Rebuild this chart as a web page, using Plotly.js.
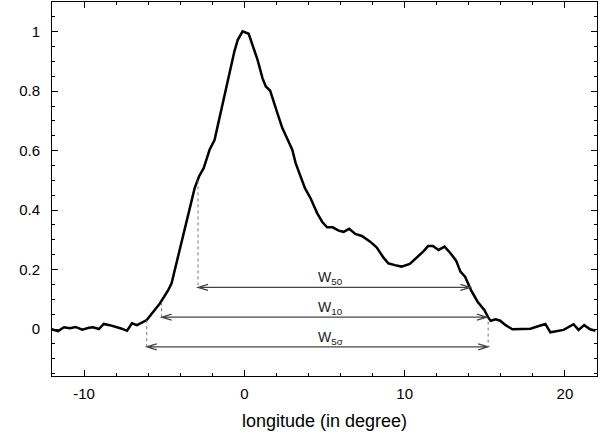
<!DOCTYPE html>
<html>
<head>
<meta charset="utf-8">
<script src="https://cdn.plot.ly/plotly-3.0.1.min.js"></script>
<style>html,body{margin:0;padding:0;background:#fff;}#chart{width:611px;height:439px;}</style>
</head>
<body>
<div id="chart"></div>
<script>
// Profile: longitude (degree) vs normalized intensity
var longitude = [-12.07,-11.62,-11.25,-10.88,-10.53,-10.11,-9.70,-9.43,-9.08,-8.77,-8.40,-8.05,-7.69,-7.32,-7.01,-6.70,-6.39,-6.09,
  -5.26,-4.75,-4.54,-4.23,-3.82,-3.41,-3.10,-2.83,-2.54,-2.37,-2.17,-1.86,-1.44,-1.13,-0.82,-0.62,-0.41,-0.11,0.27,0.51,0.82,1.13,1.34,1.61,1.75,
  2.06,2.37,2.68,2.99,3.20,3.78,4.13,4.54,4.85,5.16,5.51,5.88,6.19,6.54,6.92,7.33,7.85,8.25,8.67,8.98,9.39,9.80,10.32,10.73,11.15,11.46,11.76,
  12.12,12.49,12.86,13.21,13.48,13.77,14.14,14.55,14.97,15.21,15.37,15.68,15.96,16.30,16.72,17.23,17.85,18.37,18.78,19.09,19.50,19.92,20.54,
  20.85,21.20,21.57,21.90];
var intensity = [0.000,-0.007,0.006,0.003,0.007,-0.002,0.004,0.006,0.000,0.017,0.013,0.008,0.002,-0.006,0.019,0.013,0.021,0.030,
  0.087,0.131,0.154,0.221,0.311,0.401,0.474,0.513,0.541,0.569,0.603,0.636,0.737,0.816,0.895,0.934,0.973,1.001,0.993,0.956,0.906,0.844,0.816,0.802,0.777,
  0.726,0.676,0.642,0.603,0.558,0.474,0.440,0.390,0.361,0.342,0.342,0.331,0.327,0.337,0.320,0.313,0.294,0.275,0.241,0.221,0.215,0.210,0.219,0.238,0.260,0.279,0.279,
  0.266,0.277,0.255,0.230,0.193,0.176,0.131,0.092,0.064,0.039,0.028,0.033,0.028,0.013,-0.001,0.001,0.001,0.010,0.017,-0.011,-0.007,-0.003,0.016,
  -0.003,0.013,-0.001,-0.006];

// Width markers
var widthNames = ["W<sub>50</sub>", "W<sub>10</sub>", "W<sub>5σ</sub>"];
var widthLevel = [0.14, 0.04, -0.06];
var widthLeft = [-2.89, -5.16, -6.09];
var widthRight = [14.10, 15.13, 15.21];
var labelX = [5.4, 5.4, 5.4];
var labelLevel = [0.17, 0.07, -0.03];

// Dotted guides
var guideX = [-2.89, -5.16, -6.09, 15.21];
var guideTop = [0.50, 0.09, 0.03, 0.025];
var guideBottom = [0.14, 0.04, -0.06, -0.06];

var xTickVals = [-10, 0, 10, 20];
var xTickText = ["-10", "0", "10", "20"];
var yTickVals = [0, 0.2, 0.4, 0.6, 0.8, 1];
var yTickText = ["0", "0.2", "0.4", "0.6", "0.8", "1"];

var xRange = [-12, 22], yRange = [-0.158, 1.1];
var W = 611, H = 439, mL = 52, mR = 14, mT = 2, mB = 63;
var pxX = (xRange[1] - xRange[0]) / (W - mL - mR);
var pxY = (yRange[1] - yRange[0]) / (H - mT - mB);

var shapes = [];
for (var i = 0; i < widthLevel.length; i++) {
  var y = widthLevel[i], a = widthLeft[i], b = widthRight[i];
  var dx = 10 * pxX, dy = 3 * pxY;
  var path = "M " + a + "," + y + " L " + b + "," + y +
    " M " + (a + dx) + "," + (y + dy) + " L " + a + "," + y + " L " + (a + dx) + "," + (y - dy) +
    " M " + (b - dx) + "," + (y + dy) + " L " + b + "," + y + " L " + (b - dx) + "," + (y - dy);
  shapes.push({type: "path", xref: "x", yref: "y", path: path, line: {color: "#444", width: 1.2}});
}
for (var j = 0; j < guideX.length; j++) {
  shapes.push({type: "line", xref: "x", yref: "y", x0: guideX[j], x1: guideX[j], y0: guideTop[j], y1: guideBottom[j],
    line: {color: "#777", width: 1, dash: "dot"}});
}

var annotations = [];
for (var k = 0; k < widthNames.length; k++) {
  annotations.push({x: labelX[k], y: labelLevel[k], xref: "x", yref: "y", text: widthNames[k], showarrow: false,
    font: {family: "Liberation Sans, Arial, sans-serif", size: 14, color: "#222"}});
}

var trace = {x: longitude, y: intensity, type: "scatter", mode: "lines",
  line: {color: "#000", width: 2.5}, hoverinfo: "skip"};

var axisCommon = {showgrid: false, zeroline: false, showline: true, linecolor: "#000", linewidth: 1,
  mirror: "ticks", ticks: "inside", ticklen: 6, tickcolor: "#000", tickwidth: 1,
  tickfont: {family: "Liberation Sans, Arial, sans-serif", size: 15, color: "#000"}};

var layout = {
  width: W, height: H,
  margin: {l: mL, r: mR, t: mT, b: mB},
  paper_bgcolor: "#fff", plot_bgcolor: "#fff",
  showlegend: false,
  xaxis: Object.assign({}, axisCommon, {range: xRange, tickmode: "array", tickvals: xTickVals, ticktext: xTickText,
    minor: {dtick: 2, tick0: 0, ticks: "inside", ticklen: 3, tickcolor: "#000", showgrid: false},
    ticklabelstandoff: 4,
    title: {text: "longitude (in degree)", font: {family: "Liberation Sans, Arial, sans-serif", size: 18, color: "#000"}, standoff: 13}}),
  yaxis: Object.assign({}, axisCommon, {range: yRange, tickmode: "array", tickvals: yTickVals, ticktext: yTickText,
    minor: {dtick: 0.05, tick0: 0, ticks: "inside", ticklen: 3, tickcolor: "#000", showgrid: false},
    ticklabelstandoff: 8}),
  shapes: shapes,
  annotations: annotations
};

Plotly.newPlot("chart", [trace], layout, {staticPlot: true, displayModeBar: false});
</script>
</body>
</html>
